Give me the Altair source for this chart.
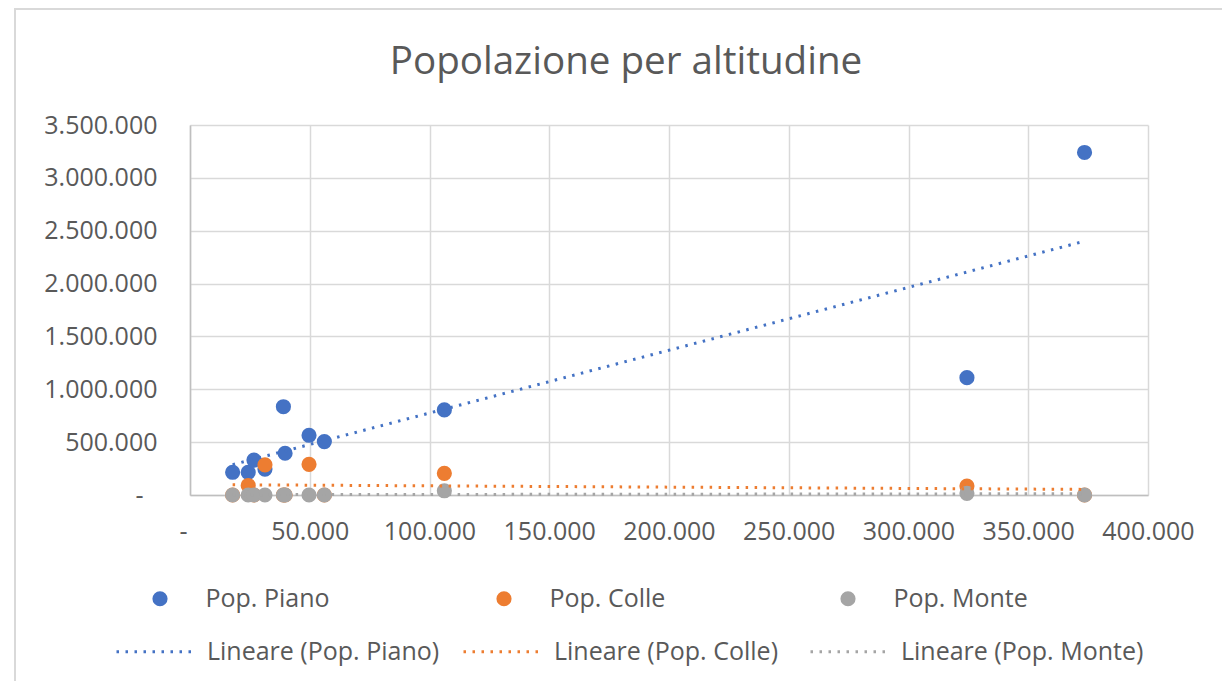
import altair as alt
import pandas as pd

series = ["Pop. Piano", "Pop. Colle", "Pop. Monte"]
trend_names = ["Lineare (Pop. Piano)", "Lineare (Pop. Colle)", "Lineare (Pop. Monte)"]
colors = ["#4472C4", "#ED7D31", "#A5A5A5"]

x_vals = [17800, 24300, 26700, 31300, 39000, 39700, 49700, 56100, 106200, 324400, 373500]
pop_piano = [215000, 215000, 330000, 245000, 835000, 395000, 565000, 505000, 805000, 1110000, 3240000]
pop_colle = [0, 90000, 0, 285000, 0, 0, 290000, 0, 205000, 85000, 0]
pop_monte = [0, 0, 0, 0, 0, 0, 0, 0, 40000, 16000, 0]

x_ticks = [0, 50000, 100000, 150000, 200000, 250000, 300000, 350000, 400000]
y_ticks = [0, 500000, 1000000, 1500000, 2000000, 2500000, 3000000, 3500000]

rows = []
for name, vals in zip(series, [pop_piano, pop_colle, pop_monte]):
    for xv, yv in zip(x_vals, vals):
        rows.append({"x": xv, "y": yv, "serie": name})
df = pd.DataFrame(rows)

num_expr = ("datum.value == 0 ? '-' : "
            "replace(replace(format(datum.value, ','), ',', '.'), ',', '.')")

x_enc = alt.X("x:Q",
              scale=alt.Scale(domain=[0, 400000], nice=False),
              axis=alt.Axis(values=x_ticks, labelExpr=num_expr, title=None,
                            labelFlush=False, labelOverlap=False, labelPadding=24,
                            labelOffset={"condition": {"test": "datum.value == 0", "value": -7},
                                         "value": 0}))
y_enc = alt.Y("y:Q",
              scale=alt.Scale(domain=[0, 3500000], nice=False),
              axis=alt.Axis(values=y_ticks, labelExpr=num_expr, title=None,
                            labelFlush=False, labelOverlap=False,
                            labelPadding={"condition": {"test": "datum.value == 0", "value": 47},
                                          "value": 33}))

points = alt.Chart(df).mark_circle(size=230, opacity=1).encode(
    x=x_enc,
    y=y_enc,
    color=alt.Color("serie:N",
                    scale=alt.Scale(domain=series, range=colors),
                    legend=alt.Legend(title=None, orient="none", legendX=-42.5, legendY=461,
                                      direction="horizontal", columns=3, gridAlign="all",
                                      columnPadding=151, symbolType="circle", symbolSize=230,
                                      symbolOpacity=1, symbolStrokeWidth=0, labelOffset=33,
                                      labelFont="Open Sans", labelFontSize=25,
                                      labelColor="#595959", labelLimit=400, padding=0)),
)

lines = alt.Chart(df).transform_regression(
    "x", "y", groupby=["serie"]
).transform_calculate(
    trend="'Lineare (' + datum.serie + ')'"
).mark_line(strokeDash=[2.5, 6.5], strokeWidth=3).encode(
    x="x:Q",
    y="y:Q",
    color=alt.Color("trend:N",
                    scale=alt.Scale(domain=trend_names, range=colors),
                    legend=alt.Legend(title=None, orient="none", legendX=-75, legendY=485,
                                      direction="horizontal", columns=3, gridAlign="all",
                                      columnPadding=7, symbolType="stroke", symbolSize=6400,
                                      symbolStrokeWidth=3, symbolDash=[2.5, 6.5], labelOffset=9,
                                      labelFont="Open Sans", labelFontSize=25,
                                      labelColor="#595959", labelLimit=400, padding=0)),
)

frame = alt.Chart(alt.Data(values=[{"f": 1}])).mark_rect(
    fillOpacity=0, stroke="#D9D9D9", strokeWidth=2
).encode(
    x=alt.value(-175), x2=alt.value(1047), y=alt.value(-116), y2=alt.value(620)
)

chart = alt.layer(frame, points, lines).resolve_scale(color="independent").properties(
    width=958,
    height=370,
    autosize=alt.AutoSizeParams(type="none"),
    padding={"left": 182, "top": 117, "right": 74, "bottom": 186},
    title=alt.TitleParams("Popolazione per altitudine", font="Open Sans", fontSize=38.6,
                          color="#595959", fontWeight="normal", anchor="middle",
                          frame="group", baseline="alphabetic", offset=0, dx=-43, dy=105),
).configure_view(
    stroke="transparent"
).configure_axis(
    gridColor="#D9D9D9", gridWidth=1.5, domainColor="#BFBFBF", domainWidth=1.5,
    ticks=False, labelFont="Open Sans", labelFontSize=25, labelColor="#595959"
)

chart.save("out.html", embed_options={"renderer": "svg", "actions": False})
